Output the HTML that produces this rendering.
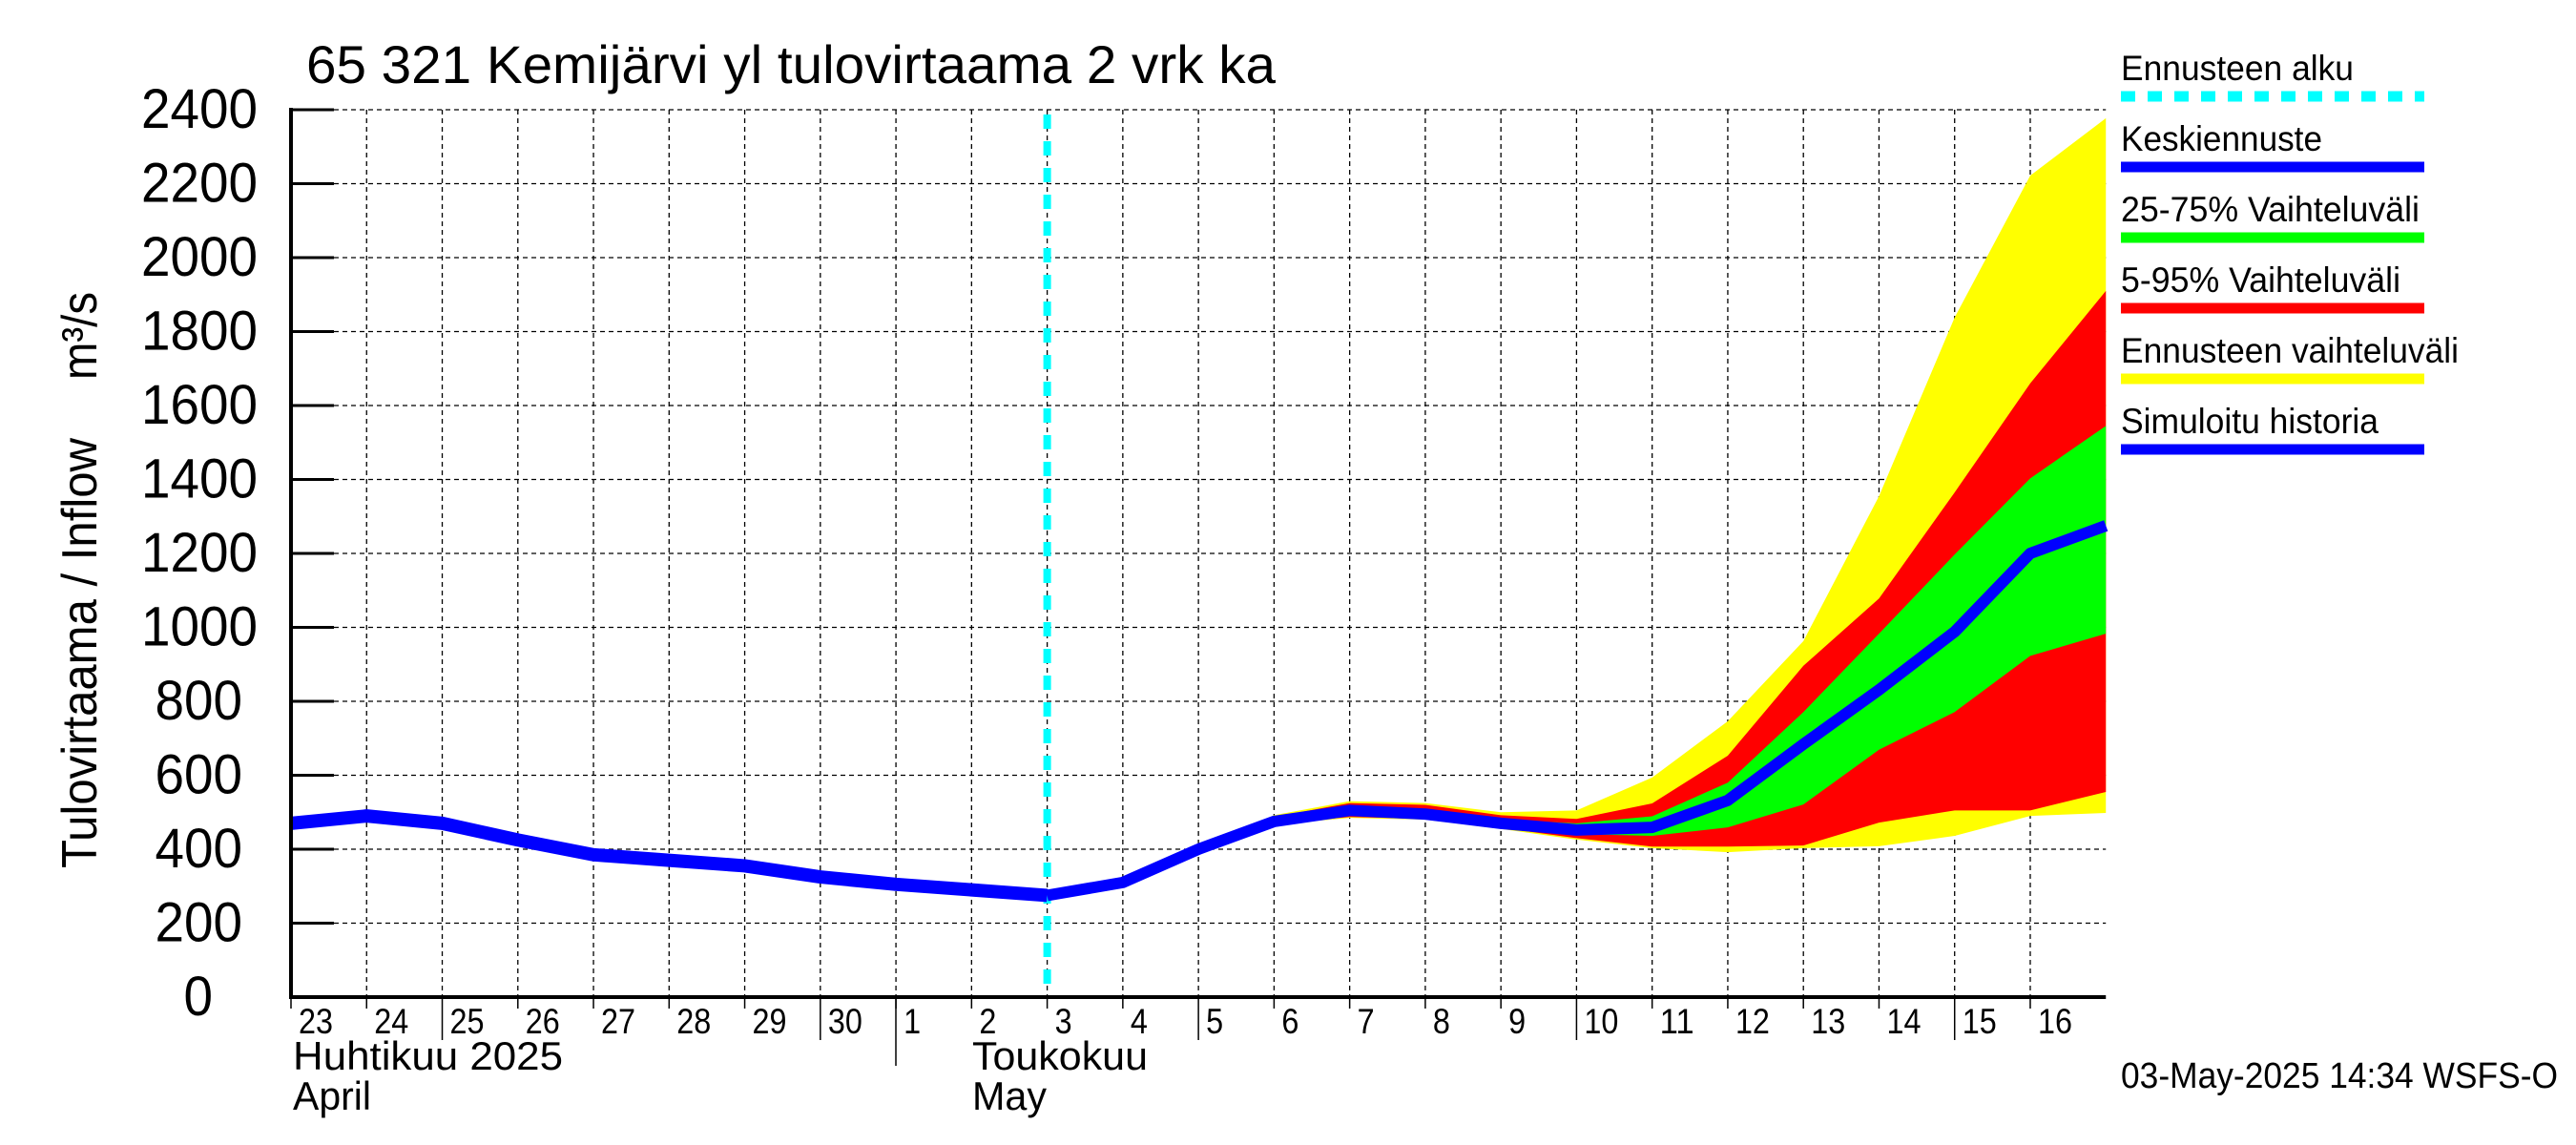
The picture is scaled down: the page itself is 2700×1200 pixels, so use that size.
<!DOCTYPE html>
<html><head><meta charset="utf-8"><style>
body{margin:0;background:#fff}
svg{display:block;font-family:"Liberation Sans",Arial,sans-serif}
</style></head><body>
<svg id="c" width="2700" height="1200" viewBox="0 0 2700 1200">
<g id="grid"></g>
<g id="bands"></g>
<g id="lines"></g>
<g id="axes"></g>
<text x="321" y="87" font-size="56" textLength="1016" lengthAdjust="spacingAndGlyphs">65 321 Kemijärvi yl tulovirtaama 2 vrk ka</text>
<text transform="translate(101,910) rotate(-90)" font-size="52" textLength="451" lengthAdjust="spacingAndGlyphs">Tulovirtaama / Inflow</text>
<text transform="translate(101,398) rotate(-90)" font-size="52" textLength="92" lengthAdjust="spacingAndGlyphs">m³/s</text>
<text x="307" y="1121" font-size="42" textLength="283" lengthAdjust="spacingAndGlyphs">Huhtikuu  2025</text>
<text x="307" y="1163" font-size="42" textLength="82" lengthAdjust="spacingAndGlyphs">April</text>
<text x="1019" y="1121" font-size="42" textLength="184" lengthAdjust="spacingAndGlyphs">Toukokuu</text>
<text x="1019" y="1163" font-size="42" textLength="78" lengthAdjust="spacingAndGlyphs">May</text>
<line x1="939" y1="1045" x2="939" y2="1117" stroke="#000" stroke-width="1.5"/>
<g id="legend"></g>
<text x="2223" y="1140" font-size="38" textLength="458" lengthAdjust="spacingAndGlyphs">03-May-2025 14:34 WSFS-O</text>
</svg>
<script>
const dayLabels=["23","24","25","26","27","28","29","30","1","2","3","4","5","6","7","8","9","10","11","12","13","14","15","16"];
const yTicks=[0,200,400,600,800,1000,1200,1400,1600,1800,2000,2200,2400];
const histDays=[0,1,2,3,4,5,6,7,8,9,10];
const histVals=[470,490,470,425,385,370,355,325,305,290,275];
const fcDays=[10,11,12,13,14,15,16,17,18,19,20,21,22,23,24];
const meanVals=[275,310,400,475,505,495,470,452,459,532,684,831,988,1200,1275];
const yelHi=[275,310,402,492,530,525,500,505,594,746,963,1355,1838,2222,2377];
const yelLo=[275,310,398,466,485,480,455,426,403,392,403,408,436,490,498];
const redHi=[275,310,401,487,525,520,492,482,524,653,896,1078,1365,1660,1910];
const redLo=[275,310,399,468,487,482,458,430,407,407,410,472,505,505,555];
const grnHi=[275,310,400,480,515,505,480,470,489,580,771,983,1197,1403,1545];
const grnLo=[275,310,400,472,495,488,462,441,436,459,521,669,771,923,983];
const forecastDay=10;
const X0=305,DX=79.26,Y0=1045,YS=77.5/200;
const xs=d=>X0+d*DX, ys=v=>Y0-v*YS;
const NS="http://www.w3.org/2000/svg";
function mk(tag,attrs,parent){const e=document.createElementNS(NS,tag);for(const k in attrs)e.setAttribute(k,attrs[k]);parent.appendChild(e);return e;}
const grid=document.getElementById('grid'),axes=document.getElementById('axes'),bands=document.getElementById('bands'),lines=document.getElementById('lines'),legend=document.getElementById('legend');
const XR=xs(24);
yTicks.forEach(v=>{
  if(v>0){const g=mk('line',{x1:X0,x2:XR,y1:ys(v),y2:ys(v),stroke:'#000','stroke-width':1.3,'stroke-dasharray':'5,4'},grid);
  
  }
  const t=mk('line',{x1:X0,x2:X0+45,y1:ys(v),y2:ys(v),stroke:'#000','stroke-width':3},axes);
  
  
  const n=String(v).length;
  const right=n==4?270:(n==3?254:223);
  const l=mk('text',{x:right,y:ys(v)+19,'font-size':58,'text-anchor':'end',textLength:n*30.5,lengthAdjust:'spacingAndGlyphs'},axes);
  l.textContent=v;
  
  
});
dayLabels.forEach((s,i)=>{
  const x=xs(i);
  if(i>0){const g=mk('line',{x1:x,x2:x,y1:ys(2400),y2:Y0,stroke:'#000','stroke-width':1.3,'stroke-dasharray':'5,4'},grid);
  
  }
  const long=(i%5==2);
  const t=mk('line',{x1:x,x2:x,y1:Y0,y2:Y0+(long?45:12),stroke:'#000','stroke-width':1.5},axes);
  
  
  const l=mk('text',{x:x+8,y:1083,'font-size':37,textLength:s.length*18,lengthAdjust:'spacingAndGlyphs'},axes);
  l.textContent=s;
  
  
});
const ax=mk('path',{d:`M${X0},${ys(2400)-2}V${Y0}H${XR}`,fill:'none',stroke:'#000','stroke-width':4},axes);


function band(hi,lo,col,name){
  let d='M'+fcDays.map((dd,i)=>xs(dd)+','+ys(hi[i])).join('L');
  d+='L'+fcDays.slice().reverse().map((dd,j)=>xs(dd)+','+ys(lo[lo.length-1-j])).join('L')+'Z';
  const p=mk('path',{d:d,fill:col},bands);
  
  
}
band(yelHi,yelLo,'#ffff00','band-full-range');
band(redHi,redLo,'#ff0000','band-5-95');
band(grnHi,grnLo,'#00ff00','band-25-75');
const fl=mk('line',{x1:xs(forecastDay),x2:xs(forecastDay),y1:ys(2400)+5,y2:Y0,stroke:'#00ffff','stroke-width':8,'stroke-dasharray':'15,13'},lines);


const hp=mk('polyline',{points:histDays.map((d,i)=>xs(d)+','+ys(histVals[i])).join(' '),fill:'none',stroke:'#0000ff','stroke-width':14,'stroke-linejoin':'round'},lines);


const mp=mk('polyline',{points:fcDays.map((d,i)=>xs(d)+','+ys(meanVals[i])).join(' '),fill:'none',stroke:'#0000ff','stroke-width':12,'stroke-linejoin':'round'},lines);


const legItems=[["Ennusteen alku","#00ffff",244,true],["Keskiennuste","#0000ff",211],["25-75% Vaihteluväli","#00ff00",313],["5-95% Vaihteluväli","#ff0000",293],["Ennusteen vaihteluväli","#ffff00",354],["Simuloitu historia","#0000ff",270]];
legItems.forEach((it,i)=>{
  const y=84+i*74;
  const t=mk('text',{x:2223,y:y,'font-size':37,textLength:it[2],lengthAdjust:'spacingAndGlyphs'},legend);
  t.textContent=it[0];
  
  
  const a={x1:2223,x2:2541,y1:y+17,y2:y+17,stroke:it[1],'stroke-width':11};
  if(it[3])a['stroke-dasharray']='15,13';
  const l=mk('line',a,legend);
  
  
});
</script>
</body></html>
